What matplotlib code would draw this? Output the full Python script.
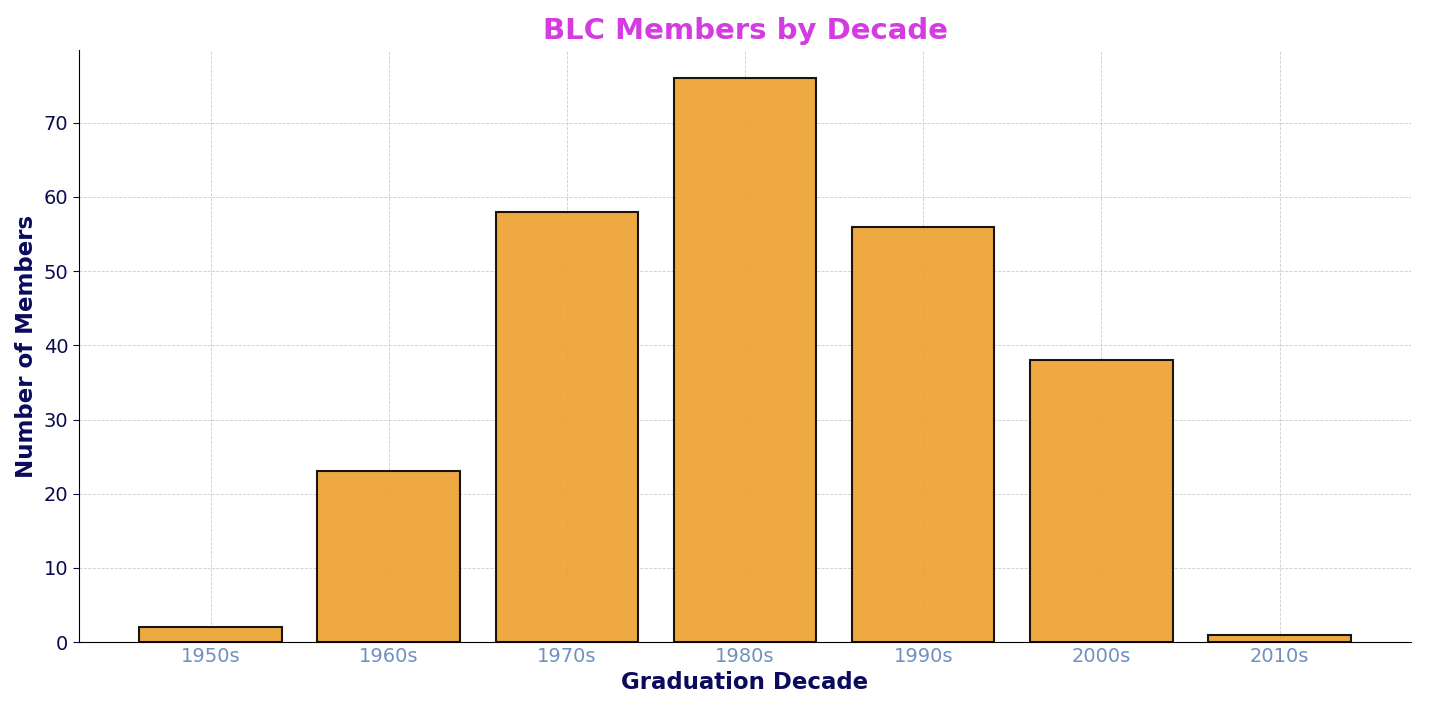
import matplotlib
matplotlib.use("Agg")
import matplotlib.pyplot as plt

decades = ["1950s", "1960s", "1970s", "1980s", "1990s", "2000s", "2010s"]
members = [2, 23, 58, 76, 56, 38, 1]

fig, ax = plt.subplots(figsize=(14.3, 7.15), dpi=100)
ax.set_axisbelow(True)
ax.grid(True, linestyle="--", color="#cccccc", linewidth=0.6)
ax.bar(decades, members, width=0.8, color="#EDA02E", alpha=0.9,
       edgecolor="black", linewidth=1.5)

ax.set_title("BLC Members by Decade", fontsize=21, fontweight="bold", color="#D43BE0", pad=8)
ax.set_xlabel("Graduation Decade", fontsize=16.5, fontweight="bold", color="#0b0b5e")
ax.set_ylabel("Number of Members", fontsize=16.5, fontweight="bold", color="#0b0b5e")
ax.tick_params(axis="x", colors="#7090c0", labelsize=14, length=0)
ax.tick_params(axis="y", colors="#0b0b4e", labelsize=14, length=4)
ax.spines["top"].set_visible(False)
ax.spines["right"].set_visible(False)

plt.subplots_adjust(left=0.055, right=0.987, top=0.93, bottom=0.102)
plt.savefig("out.png")
